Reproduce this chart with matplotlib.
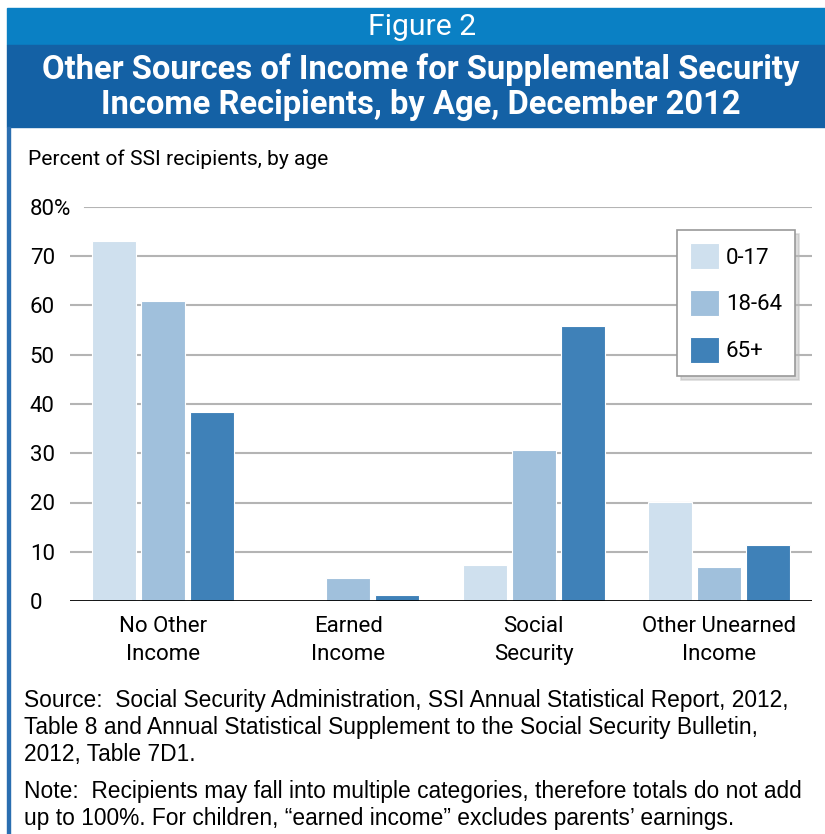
import matplotlib.pyplot as plt
from matplotlib.patches import Rectangle
import numpy as np

categories = ['No Other\nIncome', 'Earned\nIncome', 'Social\nSecurity', 'Other Unearned\nIncome']
age_groups = ['0-17', '18-64', '65+']
age_0_17 = [73.1, 0.0, 7.3, 20.1]
age_18_64 = [60.9, 4.7, 30.7, 6.9]
age_65_plus = [38.4, 1.2, 55.8, 11.4]
yticks = [0, 10, 20, 30, 40, 50, 60, 70, 80]
ytick_labels = ['0', '10', '20', '30', '40', '50', '60', '70', '80%']

colours = ['#CFE0EE', '#A0C0DC', '#3F81B8']
cond = ['Roboto', 'DejaVu Sans']
plain = ['Liberation Sans', 'DejaVu Sans']

W, H = 825, 834
fig = plt.figure(figsize=(W/100, H/100), dpi=100)
renderer = fig.canvas.get_renderer()


def fit(t, target):
    # scale a text so that its width in pixels matches the reference
    w = t.get_window_extent(renderer).width
    t.set_fontsize(t.get_fontsize()*target/w)


# header bands and left rule
fig.patches.append(Rectangle((7/W, 1-45/H), 1-7/W, 37/H, transform=fig.transFigure, color='#0A80C4', zorder=0))
fig.patches.append(Rectangle((7/W, 1-127/H), 1-7/W, 82/H, transform=fig.transFigure, color='#1461A5', zorder=0))
fig.patches.append(Rectangle((7/W, 0), 3/W, 1-127/H, transform=fig.transFigure, color='#2A6EB0', zorder=0))

t = fig.text(422/W, 1-27/H, 'Figure 2', color='white', fontsize=20, family=cond, ha='center', va='center')
fit(t, 108)
t1 = fig.text(421/W, 1-70/H, 'Other Sources of Income for Supplemental Security', color='white',
              fontsize=20, fontweight='bold', family=cond, ha='center', va='center')
fit(t1, 758)
t2 = fig.text(421/W, 1-105/H, 'Income Recipients, by Age, December 2012', color='white',
              fontsize=t1.get_fontsize(), fontweight='bold', family=cond, ha='center', va='center')
t = fig.text(28/W, 1-159/H, 'Percent of SSI recipients, by age', fontsize=16, family=cond, ha='left', va='center')
fit(t, 300)

ax = fig.add_axes([70/W, 1-601/H, 742/W, 394/H])
x = np.arange(len(categories))
step = 49/185.5
width = 44/185.5
for i, (vals, lab) in enumerate(zip([age_0_17, age_18_64, age_65_plus], age_groups)):
    ax.bar(x + (i-1)*step, vals, width, color=colours[i], edgecolor='white', linewidth=0.8, label=lab, zorder=3)

for v in yticks[1:]:
    ax.axhline(v, xmin=0.02 if v == 80 else 0, xmax=1, color='#B4B4B4', lw=1.5, zorder=1)
ax.axhline(0, color='black', lw=2, zorder=4)

ax.set_xlim(-0.5, 3.5)
ax.set_ylim(0, 80)
for s in ax.spines.values():
    s.set_visible(False)
ax.set_yticks(yticks)
ax.set_yticklabels(ytick_labels, family=cond, fontsize=16, ha='left')
ax.tick_params(axis='y', length=0, pad=29)
ax.set_xticks(x)
ax.set_xticklabels(categories, family=cond, fontsize=16, linespacing=1.4)
ax.tick_params(axis='x', length=0, pad=11)

leg = ax.legend(loc='upper left', bbox_to_anchor=(677/W, 1-230/H), bbox_transform=fig.transFigure,
                prop={'family': cond, 'size': 16}, frameon=True, fancybox=False,
                shadow={'color': '#BBBBBB', 'ox': 3, 'oy': -3},
                handlelength=1.3, handleheight=1.4, labelspacing=0.95, borderpad=0.6,
                handletextpad=0.3, borderaxespad=0)
leg.get_frame().set_edgecolor('#999999')
leg.get_frame().set_linewidth(1.2)

src = ('Source:  Social Security Administration, SSI Annual Statistical Report, 2012,\n'
       'Table 8 and Annual Statistical Supplement to the Social Security Bulletin,\n'
       '2012, Table 7D1.')
note = ('Note:  Recipients may fall into multiple categories, therefore totals do not add\n'
        'up to 100%. For children, \u201cearned income\u201d excludes parents\u2019 earnings.')
ts = fig.text(24/W, 1-689/H, src, fontsize=13.5, family=plain, ha='left', va='top', linespacing=1.22)
fit(ts, 765)
tn = fig.text(24/W, 1-780/H, note, fontsize=ts.get_fontsize(), family=plain, ha='left', va='top', linespacing=1.22)

fig.savefig('out.png', dpi=100)
